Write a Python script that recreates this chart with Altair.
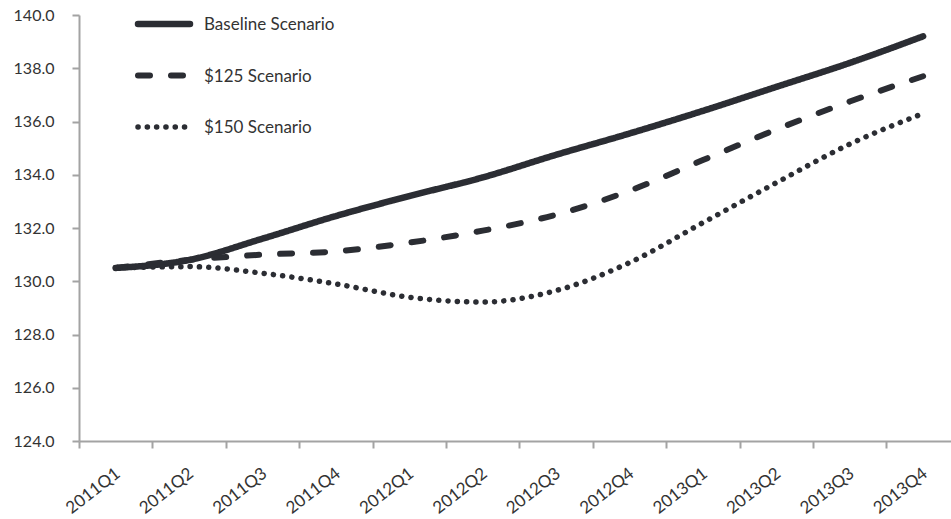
import altair as alt
import pandas as pd

quarters = ["2011Q1", "2011Q2", "2011Q3", "2011Q4", "2012Q1", "2012Q2",
            "2012Q3", "2012Q4", "2013Q1", "2013Q2", "2013Q3", "2013Q4"]
baseline = [130.5, 130.8, 131.6, 132.45, 133.2, 133.9, 134.75, 135.55, 136.4, 137.3, 138.2, 139.2]
s125 = [130.5, 130.8, 131.0, 131.12, 131.45, 131.9, 132.5, 133.4, 134.55, 135.7, 136.75, 137.7]
s150 = [130.5, 130.55, 130.3, 129.9, 129.4, 129.22, 129.65, 130.7, 132.2, 133.7, 135.15, 136.3]
series = ["Baseline Scenario", "$125 Scenario", "$150 Scenario"]
y_ticks = [124, 126, 128, 130, 132, 134, 136, 138, 140]

rows = []
for name, vals in zip(series, [baseline, s125, s150]):
    for i, (q, v) in enumerate(zip(quarters, vals)):
        rows.append({"idx": i, "quarter": q, "value": v, "series": name})
df = pd.DataFrame(rows)
legend_df = pd.DataFrame({"series": series})

W, H = 872, 426
dmin, dmax = -0.5, 11.38
step = W / (dmax - dmin)
font = "Lato"
ink = "#2b2d33"
text_col = "#333333"
axis_gray = "#a3a3a3"

label_expr = "[" + ",".join("'%s'" % q for q in quarters) + "][datum.value + 0.5]"

dash_scale = alt.Scale(domain=series, range=[[1, 0], [12, 21], [0.1, 9.2]])
width_scale = alt.Scale(domain=series, range=[6.5, 5.5, 5.2])

lines = alt.Chart(df).mark_line(
    interpolate="monotone", strokeCap="round", strokeJoin="round", color=ink
).encode(
    x=alt.X("idx:Q",
            scale=alt.Scale(domain=[dmin, dmax], nice=False, zero=False),
            axis=alt.Axis(values=[i - 0.5 for i in range(len(quarters))],
                          labelExpr=label_expr, labelOffset=step / 2 - 3,
                          labelAngle=-38, labelAlign="right", labelBaseline="top",
                          labelPadding=17, tickSize=7, title=None, grid=False,
                          domainColor=axis_gray, tickColor=axis_gray,
                          domainWidth=2, tickWidth=2,
                          labelFont=font, labelFontSize=17, labelColor=text_col,
                          labelOverlap=False, labelBound=False, labelFlush=False)),
    y=alt.Y("value:Q",
            scale=alt.Scale(domain=[124, 140], nice=False, zero=False),
            axis=alt.Axis(values=y_ticks, format=".1f", title=None, grid=False,
                          tickSize=7, labelPadding=18,
                          domainColor=axis_gray, tickColor=axis_gray,
                          domainWidth=2, tickWidth=2,
                          labelFont=font, labelFontSize=16, labelColor=text_col)),
    strokeDash=alt.StrokeDash("series:N", scale=dash_scale, legend=None),
    strokeWidth=alt.StrokeWidth("series:N", scale=width_scale, legend=None),
    order="idx:Q",
)

legend_y = alt.Y("series:N",
                 scale=alt.Scale(type="point", domain=series, range=[9, 112], padding=0),
                 axis=None)

legend_rules = alt.Chart(legend_df).mark_rule(strokeCap="round", color=ink).encode(
    x=alt.value(59), x2=alt.value(111),
    y=legend_y,
    strokeDash=alt.StrokeDash("series:N", scale=dash_scale, legend=None),
    strokeWidth=alt.StrokeWidth("series:N", scale=width_scale, legend=None),
)

legend_text = alt.Chart(legend_df).mark_text(
    align="left", baseline="middle", font=font, fontSize=17, color=text_col, dy=1
).encode(
    x=alt.value(125),
    y=legend_y,
    text="series:N",
)

chart = alt.layer(lines, legend_rules, legend_text).resolve_scale(
    y="independent"
).properties(
    width=W, height=H,
    autosize=alt.AutoSizeParams(type="none"),
    padding={"left": 79, "top": 15, "right": 0, "bottom": 78},
).configure_view(stroke=None)

chart.save("out.html", embed_options={"renderer": "svg", "actions": False})
